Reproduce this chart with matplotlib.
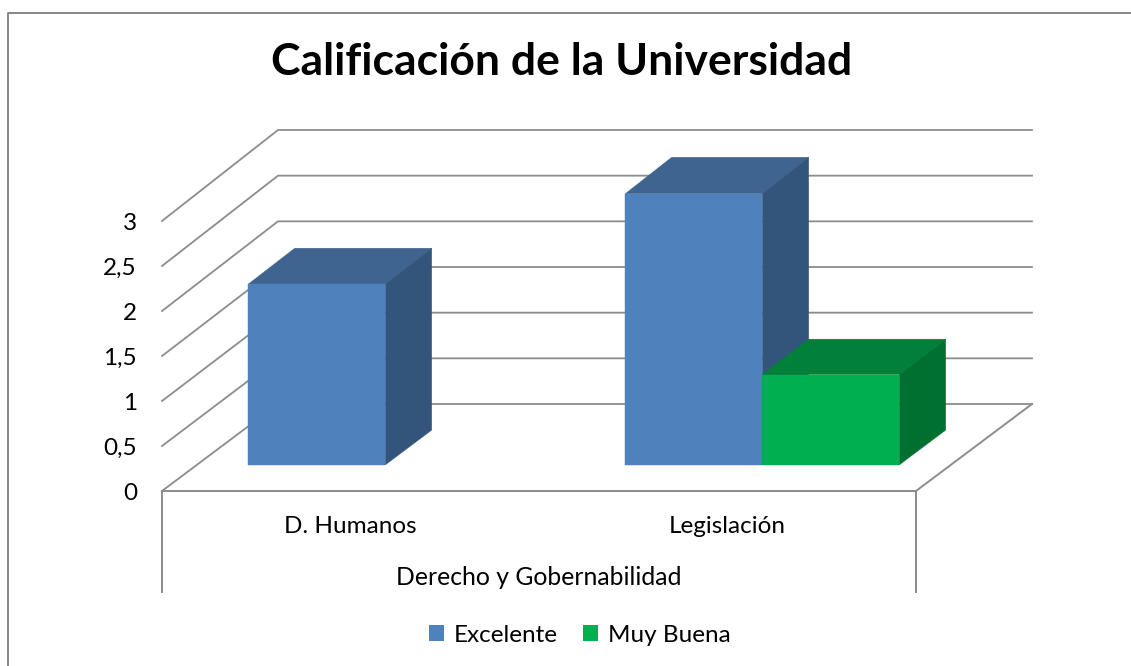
import matplotlib
matplotlib.use("Agg")
import matplotlib.pyplot as plt
from matplotlib.patches import Polygon, Patch
from matplotlib.lines import Line2D

categories = ["D. Humanos", "Legislación"]
group_label = "Derecho y Gobernabilidad"
series_names = ["Excelente", "Muy Buena"]
excelente = [2, 3]
muy_buena = [0, 1]
y_ticks = [0, 0.5, 1, 1.5, 2, 2.5, 3]
title = "Calificación de la Universidad"

W, H = 1131, 666
GRID = "#8c8c8c"

plt.rcParams["font.family"] = ["Lato", "DejaVu Sans"]

fig = plt.figure(figsize=(W / 100, H / 100), dpi=100)
# front plane of the box, in pixels
ax = fig.add_axes([162 / W, (H - 491) / H, 754 / W, 270 / H])
ax.set_xlim(0, 2)
ax.set_ylim(0, 3)
for s in ax.spines.values():
    s.set_visible(False)


def proj(x, depth, v):
    # oblique 3d look, depth 0 is the front and 1 the back wall
    return x + depth * 116 / 377, v + depth * (87 + v * 4 / 3) / 90


# gridlines, left wall and back wall
for v in y_ticks:
    pts = [proj(0, 0, v), proj(0, 1, v), proj(2, 1, v)]
    ax.plot([p[0] for p in pts], [p[1] for p in pts], color=GRID, lw=1.3, clip_on=False, zorder=1)

# floor front and side edge
pts = [proj(0, 0, 0), proj(2, 0, 0), proj(2, 1, 0)]
ax.plot([p[0] for p in pts], [p[1] for p in pts], color=GRID, lw=1.4, clip_on=False, zorder=1)

# bracket lines of the two level category axis
for x in [0, 2]:
    ax.plot([x, x], [0, -101 / 90], color=GRID, lw=1.4, clip_on=False, zorder=1)

bar_w = 137 / 377
d1, d2 = 0.30, 0.70


def draw_bar(left, v, front, side, top, z):
    right = left + bar_w
    faces = [
        ([(left, d1, v), (right, d1, v), (right, d2, v), (left, d2, v)], top),
        ([(right, d1, 0), (right, d2, 0), (right, d2, v), (right, d1, v)], side),
        ([(left, d1, 0), (right, d1, 0), (right, d1, v), (left, d1, v)], front),
    ]
    for corners, col in faces:
        xy = [proj(*c) for c in corners]
        ax.add_patch(Polygon(xy, closed=True, facecolor=col, edgecolor=col, lw=0.3, clip_on=False, zorder=z))


blue = ("#4f81bd", "#33547b", "#3e648f")
green = ("#00b050", "#007030", "#008038")
for i, v in enumerate(excelente):
    if v > 0:
        draw_bar(i + 0.5 - bar_w, v, *blue, 3 + i)
for i, v in enumerate(muy_buena):
    if v > 0:
        draw_bar(i + 0.5, v, *green, 6 + i)

ax.set_yticks(y_ticks)
ax.set_yticklabels([f"{v:g}".replace(".", ",") for v in y_ticks], fontsize=17.5, color="black")
ax.set_xticks([i + 0.5 for i in range(len(categories))])
ax.set_xticklabels(categories, fontsize=17.5, color="black")
ax.tick_params(axis="y", length=0, pad=18)
ax.tick_params(axis="x", length=0, pad=18)
ax.set_xlabel(group_label, fontsize=17.8, labelpad=21)

fig.text(562 / W, 1 - 62 / H, title, fontsize=32, fontweight="bold", ha="center", va="center")

handles = [Patch(facecolor=blue[0], label=series_names[0]), Patch(facecolor=green[0], label=series_names[1])]
fig.legend(handles=handles, loc="center", bbox_to_anchor=(580 / W, 1 - 635 / H), ncol=2, frameon=False,
           fontsize=17.5, handlelength=0.62, handleheight=0.62, handletextpad=0.4, columnspacing=1.05)

# outer chart border
fig.add_artist(Line2D([8 / W, 8 / W, 1 - 0.001], [0, 1 - 13 / H, 1 - 13 / H], color="#868686", lw=1.4))

fig.savefig("out.png", dpi=100)
